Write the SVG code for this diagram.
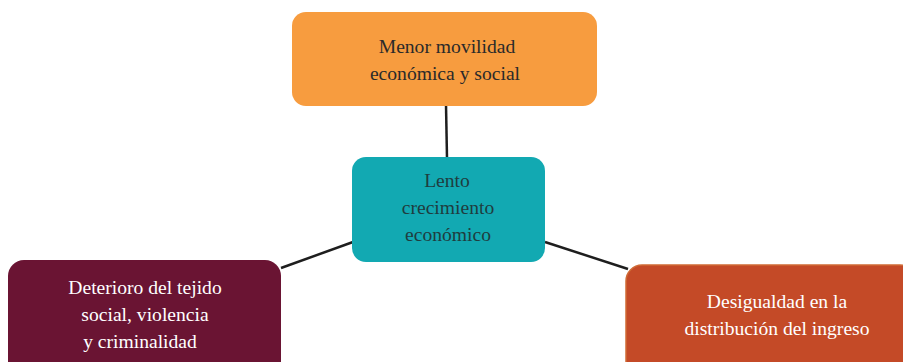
<svg xmlns="http://www.w3.org/2000/svg" width="903" height="362" viewBox="0 0 903 362">
<style>
text{font-family:"Liberation Serif","DejaVu Serif",serif;font-size:19.6px;text-anchor:middle}
.dark{fill:#2a2a2a}
.teal{fill:#1f3d3f}
.light{fill:#ffffff}
.conn{stroke:#1e1e1e;stroke-width:2.5;fill:none}
</style>
<rect width="903" height="362" fill="#ffffff"/>
<g id="connectors">
<line class="conn" x1="446" y1="105" x2="447" y2="158"/>
<line class="conn" x1="281" y1="268" x2="353" y2="242"/>
<line class="conn" x1="545" y1="242" x2="628" y2="269"/>
</g>
<g id="top">
<rect x="292" y="12" width="305" height="94" rx="14" fill="#F79C3F"/>
<text class="dark" x="447" y="53">Menor movilidad</text>
<text class="dark" x="445" y="80">económica y social</text>
</g>
<g id="center">
<rect x="352" y="157" width="193" height="105" rx="14" fill="#12A9B2"/>
<text class="teal" x="447" y="187">Lento</text>
<text class="teal" x="448" y="214">crecimiento</text>
<text class="teal" x="448" y="241">económico</text>
</g>
<g id="left">
<rect x="8" y="260" width="273" height="120" rx="16" fill="#6A1433"/>
<text class="light" x="145" y="294">Deterioro del tejido</text>
<text class="light" x="145" y="321">social, violencia</text>
<text class="light" x="140" y="348">y criminalidad</text>
</g>
<g id="right">
<rect x="626" y="265" width="290" height="120" rx="16" fill="#C44A27" stroke="#CF6A35" stroke-width="1.5"/>
<text class="light" x="777" y="308">Desigualdad en la</text>
<text class="light" x="777" y="335">distribución del ingreso</text>
</g>
</svg>
